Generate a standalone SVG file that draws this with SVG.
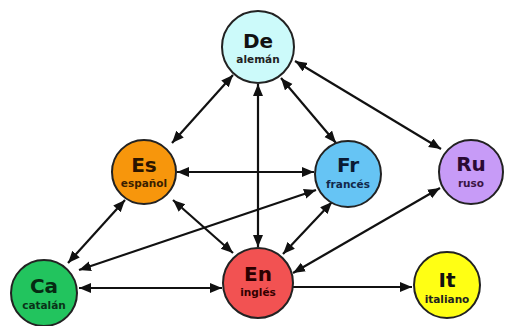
<svg xmlns="http://www.w3.org/2000/svg" width="505" height="326" viewBox="0 0 505 326">
<style>
.n{stroke:#222;stroke-width:2}
.t{font-family:"DejaVu Sans",Verdana,sans-serif;font-weight:bold;font-size:20px;text-anchor:middle}
.s{font-family:"DejaVu Sans",Verdana,sans-serif;font-weight:bold;font-size:10.5px;text-anchor:middle}
.c line{stroke:#111;stroke-width:2.2;marker-end:url(#ah)}
.c .b{marker-start:url(#ah)}
</style>
<defs>
<marker id="ah" markerUnits="userSpaceOnUse" markerWidth="13" markerHeight="11" refX="12" refY="5" orient="auto-start-reverse">
<path d="M0,0 L12,5 L0,10 z" fill="#111"/>
</marker>
</defs>
<rect width="505" height="326" fill="#fff"/>
<g class="c" id="connectors">
<line class="b" x1="233" y1="75" x2="172" y2="143"/>
<line class="b" x1="258" y1="84" x2="258" y2="247"/>
<line class="b" x1="281" y1="78" x2="336" y2="143"/>
<line class="b" x1="295" y1="61" x2="441" y2="149"/>
<line class="b" x1="177" y1="172" x2="314" y2="172"/>
<line class="b" x1="173" y1="200" x2="233" y2="253"/>
<line class="b" x1="125" y1="200" x2="68" y2="263"/>
<line class="b" x1="316" y1="190" x2="79" y2="270"/>
<line class="b" x1="332" y1="202" x2="283" y2="254"/>
<line class="b" x1="440" y1="188" x2="293" y2="273"/>
<line class="b" x1="79" y1="288" x2="222" y2="288"/>
<line x1="293" y1="287" x2="412" y2="287"/>
</g>
<g id="De"><circle class="n" cx="258" cy="47" r="36" fill="#ccfafa"/><text class="t" x="258" y="48" fill="#111">De</text><text class="s" x="258" y="63" fill="#222">alemán</text></g>
<g id="Es"><circle class="n" cx="144" cy="172" r="32" fill="#f7960c"/><text class="t" x="144" y="172" fill="#2a1400">Es</text><text class="s" x="144" y="187" fill="#3a1e00">español</text></g>
<g id="Fr"><circle class="n" cx="348" cy="174" r="33" fill="#66c4f4"/><text class="t" x="348" y="172" fill="#0a1a33">Fr</text><text class="s" x="348" y="188" fill="#12284a">francés</text></g>
<g id="Ru"><circle class="n" cx="471" cy="172" r="32" fill="#c79bf7"/><text class="t" x="471" y="171" fill="#2a0a33">Ru</text><text class="s" x="471" y="187" fill="#3a1444">ruso</text></g>
<g id="Ca"><circle class="n" cx="44" cy="293" r="33" fill="#22c45e"/><text class="t" x="44" y="293" fill="#062a12">Ca</text><text class="s" x="44" y="309" fill="#0a3318">catalán</text></g>
<g id="En"><circle class="n" cx="258" cy="283" r="35" fill="#f25252"/><text class="t" x="258" y="281" fill="#2a0000">En</text><text class="s" x="258" y="296" fill="#330000">inglés</text></g>
<g id="It"><circle class="n" cx="447" cy="285" r="33" fill="#ffff14"/><text class="t" x="447" y="287" fill="#111">It</text><text class="s" x="447" y="303" fill="#222">italiano</text></g>
</svg>
